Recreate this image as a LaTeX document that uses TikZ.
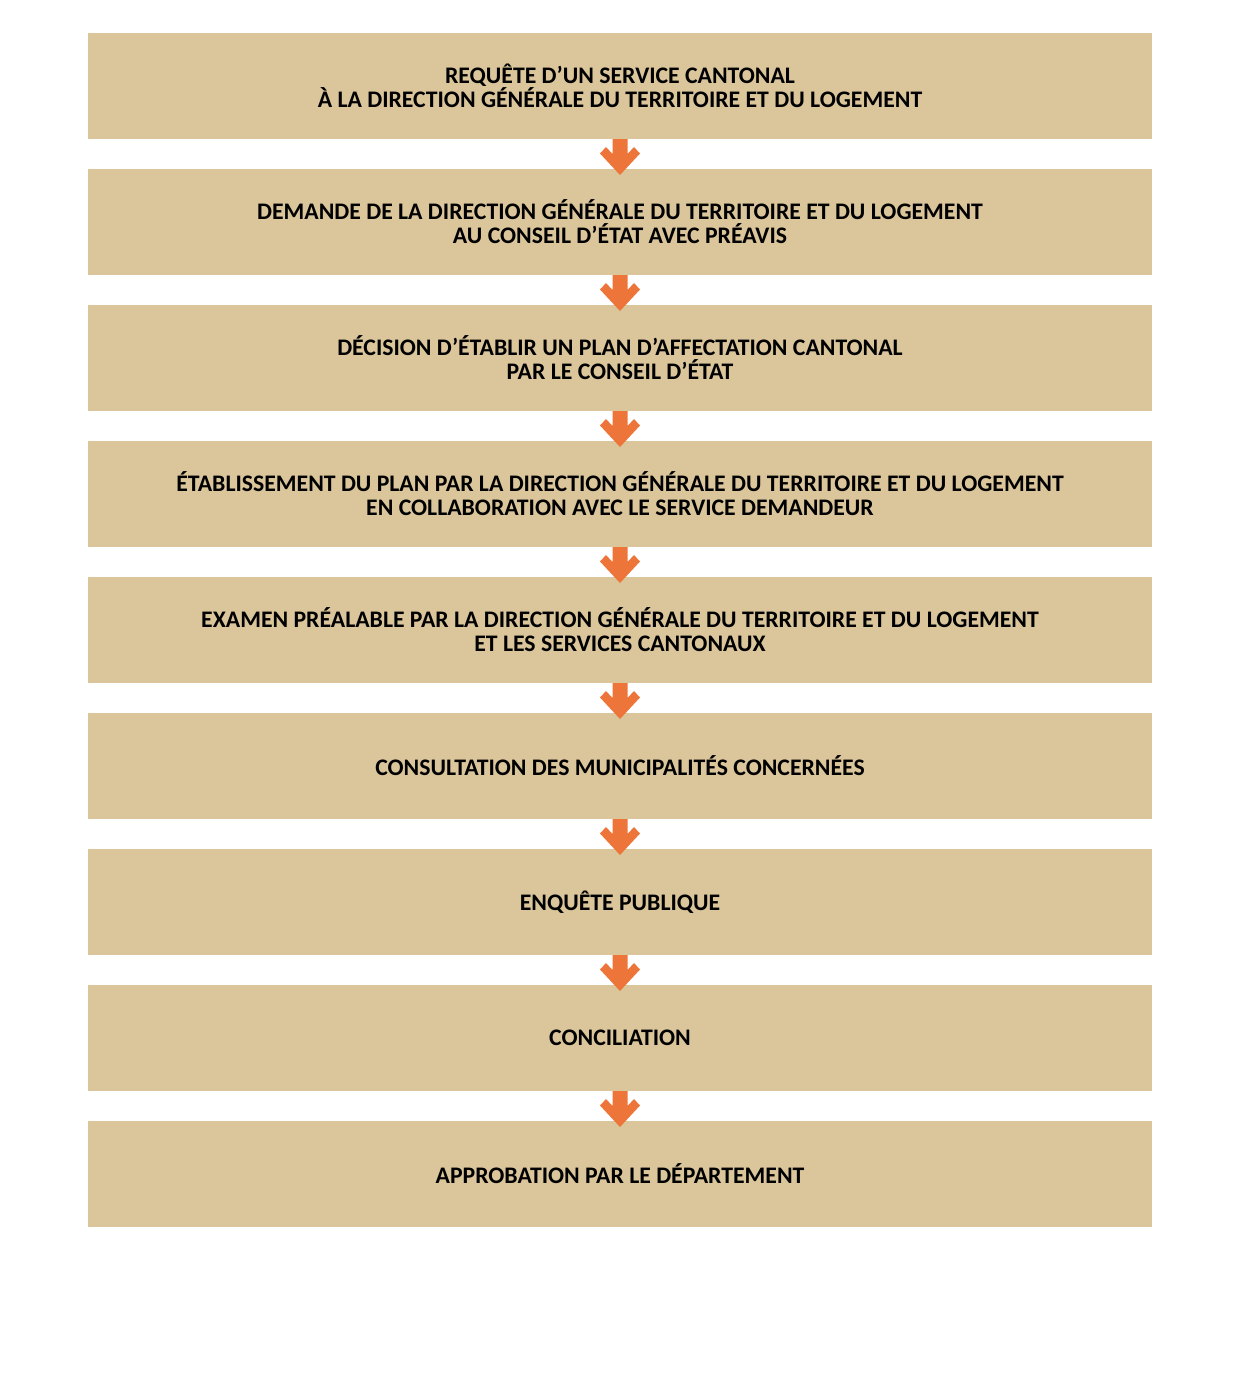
\documentclass[tikz,border=0pt]{standalone}
\usepackage{fontspec}
\setmainfont{Carlito}
\usetikzlibrary{positioning, calc}
\definecolor{boxsand}{RGB}{219,197,155}
\definecolor{arroworange}{RGB}{237,117,57}
\tikzset{
    stepbox/.style={fill=boxsand, minimum width=798pt, minimum height=79.5pt, inner sep=0pt, outer sep=0pt, align=center, font=\fontsize{17.8}{18}\selectfont\bfseries},
    flowarrow/.style={fill=arroworange}
}

\begin{document}
\begin{tikzpicture}[x=0.75pt, y=0.75pt, node distance=22.5pt]
        \useasboundingbox (0,0) rectangle (1240,-1400);
        \node[stepbox] (req) at (620,-86) {REQUÊTE D’UN SERVICE CANTONAL \\ À LA DIRECTION GÉNÉRALE DU TERRITOIRE ET DU LOGEMENT};
        \node[stepbox, below=of req] (dem) {DEMANDE DE LA DIRECTION GÉNÉRALE DU TERRITOIRE ET DU LOGEMENT \\ AU CONSEIL D’ÉTAT AVEC PRÉAVIS};
        \node[stepbox, below=of dem] (dec) {DÉCISION D’ÉTABLIR UN PLAN D’AFFECTATION CANTONAL \\ PAR LE CONSEIL D’ÉTAT};
        \node[stepbox, below=of dec] (eta) {ÉTABLISSEMENT DU PLAN PAR LA DIRECTION GÉNÉRALE DU TERRITOIRE ET DU LOGEMENT \\ EN COLLABORATION AVEC LE SERVICE DEMANDEUR};
        \node[stepbox, below=of eta] (exa) {EXAMEN PRÉALABLE PAR LA DIRECTION GÉNÉRALE DU TERRITOIRE ET DU LOGEMENT \\ ET LES SERVICES CANTONAUX};
        \node[stepbox, below=of exa] (con) {CONSULTATION DES MUNICIPALITÉS CONCERNÉES};
        \node[stepbox, below=of con] (enq) {ENQUÊTE PUBLIQUE};
        \node[stepbox, below=of enq] (cil) {CONCILIATION};
        \node[stepbox, below=of cil] (app) {APPROBATION PAR LE DÉPARTEMENT};

        % fat orange arrows between the steps
        \foreach \a/\b in {req/dem, dem/dec, dec/eta, eta/exa, exa/con, con/enq, enq/cil, cil/app} {
            \fill[flowarrow] (\a.south) ++(-7.5,0) -- ++(0,-15) -- ++(-6.5,7) -- ++(-6,-6.5)
                -- ($(\b.north)+(0,-6)$) -- ++(20,21.5) -- ++(-6,6.5) -- ++(-6.5,-7) -- ++(0,15) -- cycle;
        }
    \end{tikzpicture}
\end{document}
